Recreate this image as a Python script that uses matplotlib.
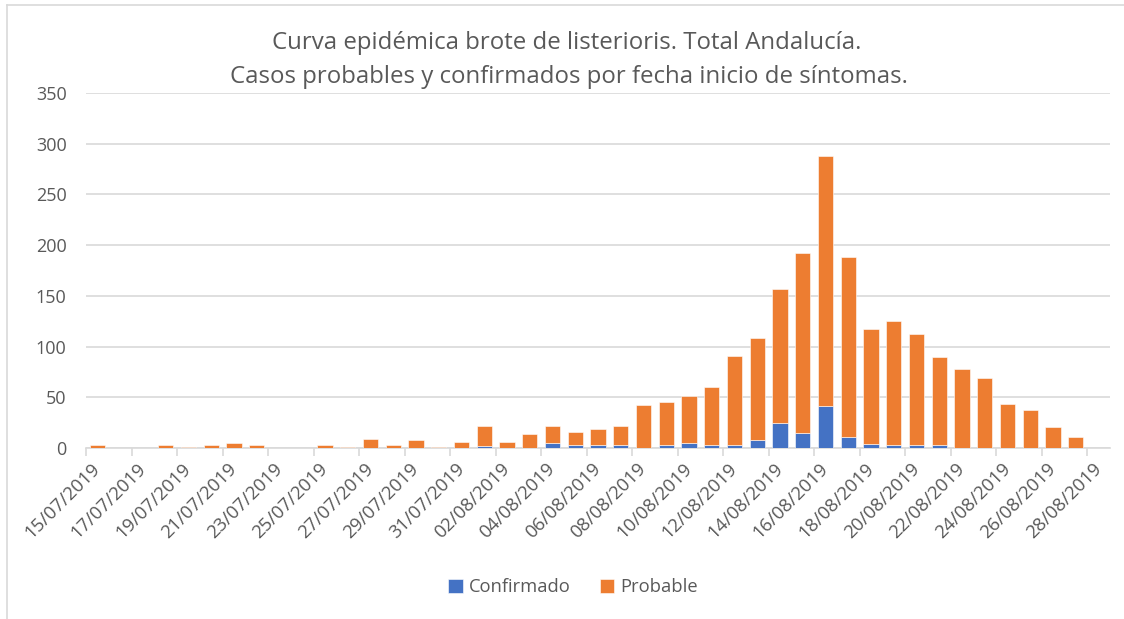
import matplotlib
matplotlib.use("Agg")
import matplotlib.pyplot as plt
from matplotlib.lines import Line2D
import numpy as np

# ---- data ----
fechas = [
    "15/07/2019", "16/07/2019", "17/07/2019", "18/07/2019", "19/07/2019",
    "20/07/2019", "21/07/2019", "22/07/2019", "23/07/2019", "24/07/2019",
    "25/07/2019", "26/07/2019", "27/07/2019", "28/07/2019", "29/07/2019",
    "30/07/2019", "31/07/2019", "01/08/2019", "02/08/2019", "03/08/2019",
    "04/08/2019", "05/08/2019", "06/08/2019", "07/08/2019", "08/08/2019",
    "09/08/2019", "10/08/2019", "11/08/2019", "12/08/2019", "13/08/2019",
    "14/08/2019", "15/08/2019", "16/08/2019", "17/08/2019", "18/08/2019",
    "19/08/2019", "20/08/2019", "21/08/2019", "22/08/2019", "23/08/2019",
    "24/08/2019", "25/08/2019", "26/08/2019", "27/08/2019", "28/08/2019",
]
confirmado = [0, 0, 0, 0, 0, 0, 0, 0, 0, 0,
              0, 0, 0, 0, 0, 0, 0, 2, 0, 0,
              5, 3, 3, 3, 0, 3, 5, 3, 3, 8,
              25, 15, 41, 11, 4, 3, 3, 3, 0, 0,
              0, 0, 0, 0, 0]
probable = [3, 0, 0, 3, 1, 3, 5, 3, 0, 0,
            3, 1, 9, 3, 8, 1, 6, 20, 6, 14,
            17, 13, 16, 19, 42, 42, 46, 57, 88, 100,
            132, 177, 247, 177, 113, 122, 109, 87, 78, 69,
            43, 37, 21, 11, 0]
yticks = [0, 50, 100, 150, 200, 250, 300, 350]
titulo1 = "Curva epidémica brote de listerioris. Total Andalucía."
titulo2 = "Casos probables y confirmados por fecha inicio de síntomas."

AZUL = "#4472C4"
NARANJA = "#ED7D31"
GRIS_TXT = "#595959"
GRIS_LIN = "#D9D9D9"

plt.rcParams['font.family'] = ['Open Sans', 'DejaVu Sans']

W, H = 1124, 619
fig = plt.figure(figsize=(W / 100, H / 100), dpi=100)
fig.patch.set_facecolor("white")

# axes placement (pixels)
x0, x1 = 86, 1110
y_top, y_bot = 93, 448
ax = fig.add_axes([x0 / W, 1 - y_bot / H, (x1 - x0) / W, (y_bot - y_top) / H])

x = np.arange(len(fechas))
ax.bar(x, confirmado, width=0.67, color=AZUL, edgecolor="white",
       linewidth=0.4, label="Confirmado", zorder=3)
ax.bar(x, probable, width=0.67, bottom=confirmado, color=NARANJA,
       edgecolor="white", linewidth=0.4, label="Probable", zorder=3)

ax.set_xlim(-0.5, len(fechas) - 0.5)
ax.set_ylim(0, 350)
ax.set_yticks(yticks)
ax.yaxis.grid(True, color=GRIS_LIN, linewidth=1.2, zorder=0)
ax.set_axisbelow(True)
for s in ["top", "right", "left"]:
    ax.spines[s].set_visible(False)
ax.spines["bottom"].set_color(GRIS_LIN)
ax.spines["bottom"].set_linewidth(1.2)

ax.tick_params(axis="y", length=0, pad=14, labelsize=13, labelcolor=GRIS_TXT)

ax.set_xticks(x[::2])
ax.set_xticklabels(fechas[::2], rotation=45, ha="right", va="center",
                   rotation_mode="anchor")
ax.tick_params(axis="x", which="major", length=0, pad=13, labelsize=13.3,
               labelcolor=GRIS_TXT)
ax.set_xticks(np.arange(-0.5, len(fechas) - 1, 2), minor=True)
ax.tick_params(axis="x", which="minor", length=6, width=1.2, color=GRIS_LIN,
               direction="out")

# title
fig.text(567 / W, 1 - 43 / H, titulo1, ha="center", va="center",
         fontsize=17.3, color=GRIS_TXT)
fig.text(569 / W, 1 - 77 / H, titulo2, ha="center", va="center",
         fontsize=17.3, color=GRIS_TXT)

# legend
leg = fig.legend(loc="center", bbox_to_anchor=(573 / W, 1 - 587 / H), ncol=2,
                 frameon=False, fontsize=13.2, handlelength=0.8,
                 handleheight=0.8, handletextpad=0.3, columnspacing=1.6)
for t in leg.get_texts():
    t.set_color(GRIS_TXT)

# chart border (top and left visible)
fig.add_artist(Line2D([7 / W, 1.0], [1 - 5 / H, 1 - 5 / H],
                      transform=fig.transFigure, color=GRIS_LIN, lw=1.2))
fig.add_artist(Line2D([7 / W, 7 / W], [0, 1 - 5 / H],
                      transform=fig.transFigure, color=GRIS_LIN, lw=1.2))

fig.savefig("out.png", dpi=100)
